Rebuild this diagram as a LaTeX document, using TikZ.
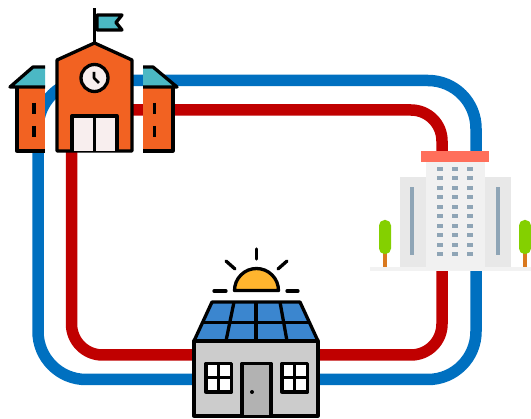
\documentclass[tikz,border=0pt]{standalone}
\usepackage{tikz}
\usetikzlibrary{calc}

\definecolor{loopblue}{HTML}{0070C0}
\definecolor{loopred}{HTML}{C00000}
\definecolor{brick}{HTML}{F26222}
\definecolor{teal}{HTML}{4BB8C4}
\definecolor{paleface}{HTML}{F8EEEE}
\definecolor{slate}{HTML}{8FA5B6}
\definecolor{panel}{HTML}{3B86CF}
\definecolor{sunny}{HTML}{FFB52E}
\definecolor{leaf}{HTML}{84D000}
\definecolor{bark}{HTML}{D9791F}
\definecolor{coping}{HTML}{FF6F5B}

\begin{document}
\begin{tikzpicture}[
    x=1pt, y=-1pt,
    blueline/.style={draw=loopblue, line width=11.5pt, rounded corners=48pt},
    redline/.style={draw=loopred, line width=11.5pt, rounded corners=31pt},
    outline/.style={draw=black, line width=3.3pt, line join=round},
    thin outline/.style={draw=black, line width=2.6pt, line join=round},
    slit/.style={fill=slate, draw=none},
    tree crown/.style={fill=leaf, draw=none, rounded corners=5.5pt},
    tree trunk/.style={fill=bark, draw=none}
]
    \useasboundingbox (0,0) rectangle (531,419);

    % Connection points
    \coordinate (school blue) at (100,80.5);
    \coordinate (school blue low) at (38,230);
    \coordinate (office blue) at (476,230);
    \coordinate (house blue) at (256,379.5);
    \coordinate (school red) at (100,110);
    \coordinate (school red low) at (71.5,230);
    \coordinate (office red) at (442,230);
    \coordinate (house red) at (256,355);

    % Connections
    \draw[blueline] (school blue) -| (office blue) |- (house blue) -| (school blue low) |- (school blue);
    \draw[redline] (school red) -| (office red) |- (house red) -| (school red low) |- (school red);

    % School
    \draw[outline] (94.5,43) -- (94.5,8);
    \draw[outline, fill=teal] (97,15) -- (122,15) -- (116,22.5) -- (122,30) -- (97,30) -- cycle;
    \fill[brick] (17,88) rectangle (45,151);
    \draw[outline] (45,151) -- (17,151) -- (17,87);
    \fill[brick] (143,88) rectangle (173,151);
    \draw[outline] (143,151) -- (173,151) -- (173,87);
    \fill[teal] (10,87) -- (33,67) -- (45,67) -- (45,87) -- cycle;
    \draw[outline] (45,87) -- (10,87) -- (33,67) -- (45,67);
    \fill[teal] (143,67) -- (153,67) -- (177,87) -- (143,87) -- cycle;
    \draw[outline] (143,67) -- (153,67) -- (177,87) -- (143,87);
    \foreach \xpos in {34,154.5}
        \foreach \ypos in {103,126}
            \draw[black, line width=3.5pt] (\xpos,\ypos) -- (\xpos,\ypos+11);
    \draw[outline, fill=brick] (94.5,43) -- (132,60) -- (132,151) -- (57,151) -- (57,60) -- cycle;
    \draw[outline, fill=paleface] (94.5,78) circle (13.5);
    \draw[thin outline] (94,72) -- (94,78) -- (99,83);
    \draw[outline, fill=paleface] (72,151) -- (72,116) -- (117,116) -- (117,151);
    \draw[outline] (94.5,116) -- (94.5,151);

    % Office block
    \fill[gray!10] (370,267) rectangle (531,271);
    \fill[gray!18] (400,177) rectangle (511,267);
    \fill[gray!11] (426,162) rectangle (485,270);
    \fill[coping] (421,151) rectangle (489,162);
    \foreach \xpos in {440,455,470}
        \foreach \row in {0,...,9}
            \fill[slate] ({\xpos-3},{169+9.48*\row-2}) rectangle ++(6,4);
    \fill[slit] (410,187) rectangle (414,255);
    \fill[slit] (496,187) rectangle (500,255);
    \foreach \xpos in {379,519} {
        \fill[tree trunk] (\xpos+4,252) rectangle (\xpos+7.5,267);
        \fill[tree crown] (\xpos,220) rectangle (\xpos+12,254);
    }

    % Solar house
    \draw[outline, line cap=round] (256.5,249) -- (256.5,259);
    \draw[outline, line cap=round] (226,261) -- (235,269);
    \draw[outline, line cap=round] (287,261) -- (278,269);
    \draw[outline, line cap=round] (214,291) -- (226,291);
    \draw[outline, line cap=round] (287,291) -- (298,291);
    \draw[outline, fill=sunny] (234.5,290.5) arc[start angle=180, end angle=360, radius=22] -- cycle;
    \draw[outline, fill=panel] (212,302) -- (300,302) -- (318,341) -- (194,341) -- cycle;
    \draw[outline] (203,322.5) -- (309,322.5);
    \draw[outline] (234,302) -- (226,341);
    \draw[outline] (256,302) -- (256,341);
    \draw[outline] (280,302) -- (287,341);
    \draw[outline, fill=gray!40] (194,341) rectangle (318,416);
    \draw[outline, fill=gray!60] (242,415) -- (242,363.5) -- (271,363.5) -- (271,415);
    \fill[black] (252,392) circle (2);
    \foreach \xpos in {206,282} {
        \draw[outline, fill=white] (\xpos,363.5) rectangle (\xpos+25.5,392);
        \draw[thin outline] (\xpos+12.75,363.5) -- (\xpos+12.75,392);
        \draw[thin outline] (\xpos,377.75) -- (\xpos+25.5,377.75);
    }
\end{tikzpicture}
\end{document}
